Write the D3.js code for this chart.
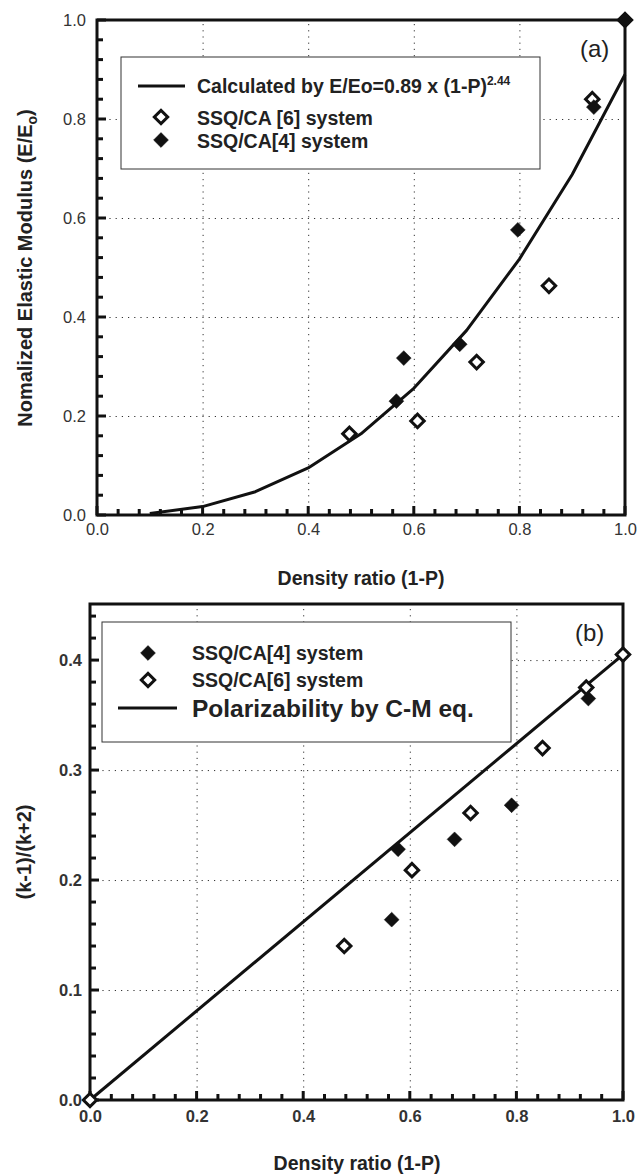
<!DOCTYPE html>
<html>
<head>
<meta charset="UTF-8" />
<title>Elastic modulus and polarizability vs density ratio</title>
<style>
  body { margin: 0; background: #fff; }
  svg { display: block; font-family: "Liberation Sans", Arial, sans-serif; }
  .grid line { stroke: #333; stroke-width: 1; stroke-dasharray: 1.2,5; }
</style>
</head>
<body>
<div id="chart"></div>
<script src="https://d3js.org/d3.v7.min.js"></script>
<script>
// panel (a): elastic modulus
const curveX = [0.1, 0.2, 0.3, 0.4, 0.5, 0.6, 0.7, 0.8, 0.9, 1.0];
const curveY = [0.003, 0.017, 0.047, 0.095, 0.164, 0.256, 0.373, 0.517, 0.688, 0.89];
const ssq6X_a = [0.478, 0.607, 0.719, 0.856, 0.938, 1.0];
const ssq6Y_a = [0.164, 0.19, 0.309, 0.463, 0.84, 1.0];
const ssq4X_a = [0.567, 0.581, 0.687, 0.797, 0.941, 1.0];
const ssq4Y_a = [0.23, 0.317, 0.345, 0.576, 0.824, 1.0];

// panel (b): polarizability
const cmX = [0.0, 1.0];
const cmY = [0.0, 0.405];
const ssq4X_b = [0.0, 0.566, 0.578, 0.684, 0.791, 0.935, 1.0];
const ssq4Y_b = [0.0, 0.164, 0.228, 0.237, 0.268, 0.365, 0.405];
const ssq6X_b = [0.0, 0.477, 0.604, 0.714, 0.849, 0.931, 1.0];
const ssq6Y_b = [0.0, 0.14, 0.209, 0.261, 0.32, 0.375, 0.405];

const xTicks = [0.0, 0.2, 0.4, 0.6, 0.8, 1.0];
const yTicksA = [0.0, 0.2, 0.4, 0.6, 0.8, 1.0];
const yTicksB = [0.0, 0.1, 0.2, 0.3, 0.4];

const svg = d3.select('#chart').append('svg')
    .attr('width', 639)
    .attr('height', 1174);

const zip = (xs, ys) => xs.map((x, i) => ({ x, y: ys[i] }));
const diamond = d3.symbol().type(d3.symbolSquare);

function panel(opt) {
    const x = d3.scaleLinear().domain([0, 1]).range([opt.left, opt.right]);
    const y = d3.scaleLinear().domain([0, opt.yMax]).range([opt.bottom, opt.top]);
    const w = opt.right - opt.left, h = opt.bottom - opt.top;
    const g = svg.append('g');

    // dotted grid
    g.append('g').attr('class', 'grid')
        .attr('transform', `translate(0,${opt.bottom})`)
        .call(d3.axisBottom(x).tickValues(opt.xGrid).tickSize(-h).tickFormat(''))
        .call(s => s.select('.domain').remove());
    g.append('g').attr('class', 'grid')
        .attr('transform', `translate(${opt.left},0)`)
        .call(d3.axisLeft(y).tickValues(opt.yGrid).tickSize(-w).tickFormat(''))
        .call(s => s.select('.domain').remove());

    // tick labels
    const xa = g.append('g')
        .attr('transform', `translate(0,${opt.bottom})`)
        .call(d3.axisBottom(x).tickValues(xTicks).tickSize(0).tickPadding(opt.xPad).tickFormat(d3.format('.1f')));
    const ya = g.append('g')
        .attr('transform', `translate(${opt.left},0)`)
        .call(d3.axisLeft(y).tickValues(opt.yTicks).tickSize(0).tickPadding(opt.yPad).tickFormat(d3.format('.1f')));
    [xa, ya].forEach(a => {
        a.select('.domain').remove();
        a.selectAll('line').remove();
        a.selectAll('text')
            .attr('font-size', 16.5)
            .attr('font-family', '"Liberation Sans", Arial, sans-serif')
            .attr('font-weight', opt.boldTicks ? 'bold' : 'normal')
            .attr('fill', '#333');
    });

    // frame
    g.append('rect')
        .attr('x', opt.left).attr('y', opt.top)
        .attr('width', w).attr('height', h)
        .attr('fill', 'none').attr('stroke', '#111').attr('stroke-width', 3);

    // inward ticks, drawn over the frame
    const xMinor = d3.range(0, 1.0001, 0.04);
    const yMinor = d3.range(0, opt.yMax + 1e-6, opt.yMinor);
    const isMajor = (v, list) => list.some(t => Math.abs(t - v) < 1e-6);
    const tk = g.append('g').attr('stroke', '#111').attr('stroke-width', 3);
    tk.selectAll('.xt').data(xMinor).enter().append('line')
        .attr('x1', d => x(d)).attr('x2', d => x(d))
        .attr('y1', opt.bottom)
        .attr('y2', d => opt.bottom - (isMajor(d, xTicks) ? 9 : 6));
    tk.selectAll('.yt').data(yMinor).enter().append('line')
        .attr('y1', d => y(d)).attr('y2', d => y(d))
        .attr('x1', opt.left)
        .attr('x2', d => opt.left + (isMajor(d, opt.yTicks) ? 9 : 6));

    return { x, y, g };
}

function marker(sel, filled) {
    return sel
        .attr('d', diamond.size(filled ? 110 : 90))
        .attr('fill', filled ? '#111' : '#fff')
        .attr('stroke', '#111')
        .attr('stroke-width', filled ? 0.5 : 3);
}

function drawSeries(p, pts, filled) {
    p.g.append('g').selectAll('path')
        .data(pts)
        .enter().append('path')
        .attr('transform', d => `translate(${p.x(d.x)},${p.y(d.y)}) rotate(45)`)
        .call(marker, filled);
}

function drawLine(p, pts) {
    p.g.append('path')
        .datum(pts)
        .attr('fill', 'none')
        .attr('stroke', '#111')
        .attr('stroke-width', 3)
        .attr('stroke-linejoin', 'round')
        .attr('d', d3.line().x(d => p.x(d.x)).y(d => p.y(d.y)));
}

function legendMarker(x, y, filled) {
    svg.append('path')
        .attr('transform', `translate(${x},${y}) rotate(45)`)
        .call(marker, filled);
}

function label(x, y, txt, size, extra) {
    const t = svg.append('text')
        .attr('x', x).attr('y', y)
        .attr('font-size', size)
        .attr('font-weight', 'bold')
        .attr('fill', '#222')
        .text(txt);
    if (extra) extra(t);
    return t;
}

// ---------- panel (a) ----------
const pa = panel({
    left: 97, right: 625, top: 20, bottom: 515, yMax: 1.0,
    yTicks: yTicksA, yMinor: 0.04, xPad: 8, yPad: 11, boldTicks: false,
    xGrid: [0.2, 0.4, 0.6, 0.8], yGrid: [0.2, 0.4, 0.6, 0.8]
});

// legend (a)
svg.append('rect').attr('x', 121).attr('y', 57).attr('width', 419).attr('height', 112)
    .attr('fill', '#fff').attr('stroke', '#333').attr('stroke-width', 1);
svg.append('line').attr('x1', 138).attr('x2', 185).attr('y1', 86).attr('y2', 86)
    .attr('stroke', '#111').attr('stroke-width', 3);
label(197, 93, 'Calculated by E/Eo=0.89 x (1-P)', 19.5, t => {
    t.append('tspan').attr('font-size', 12).attr('dy', -8).text('2.44');
});
legendMarker(161, 117, false);
label(197, 125, 'SSQ/CA [6] system', 19.5);
legendMarker(161, 140, true);
label(197, 148, 'SSQ/CA[4] system', 19.5);

drawLine(pa, zip(curveX, curveY));
drawSeries(pa, zip(ssq6X_a, ssq6Y_a), false);
drawSeries(pa, zip(ssq4X_a, ssq4Y_a), true);

svg.append('text').attr('x', 580).attr('y', 57).attr('font-size', 24)
    .attr('fill', '#222').text('(a)');

label(361, 585, 'Density ratio (1-P)', 19.5).attr('text-anchor', 'middle');
label(0, 0, 'Nomalized Elastic Modulus (E/E', 20, t => {
    t.attr('text-anchor', 'middle')
     .attr('transform', 'translate(32,268) rotate(-90)');
    t.append('tspan').attr('font-size', 14).attr('dy', 5).text('o');
    t.append('tspan').attr('dy', -5).text(')');
});

// ---------- panel (b) ----------
const pb = panel({
    left: 90, right: 623, top: 604, bottom: 1100, yMax: 0.451,
    yTicks: yTicksB, yMinor: 0.02, xPad: 10, yPad: 8, boldTicks: true,
    xGrid: [0.2, 0.4, 0.6, 0.8], yGrid: [0.1, 0.2, 0.3, 0.4]
});

// legend (b)
svg.append('rect').attr('x', 102).attr('y', 622).attr('width', 409).attr('height', 120)
    .attr('fill', '#fff').attr('stroke', '#333').attr('stroke-width', 1);
legendMarker(148, 653, true);
label(192, 660, 'SSQ/CA[4] system', 19.5);
legendMarker(148, 680, false);
label(192, 687, 'SSQ/CA[6] system', 19.5);
svg.append('line').attr('x1', 118).attr('x2', 177).attr('y1', 708).attr('y2', 708)
    .attr('stroke', '#111').attr('stroke-width', 3);
label(192, 717, 'Polarizability by C-M eq.', 24.5);

drawLine(pb, zip(cmX, cmY));
drawSeries(pb, zip(ssq4X_b, ssq4Y_b), true);
drawSeries(pb, zip(ssq6X_b, ssq6Y_b), false);

svg.append('text').attr('x', 575).attr('y', 641).attr('font-size', 24)
    .attr('fill', '#222').text('(b)');

label(357, 1170, 'Density ratio (1-P)', 19.5).attr('text-anchor', 'middle');
label(0, 0, '(k-1)/(k+2)', 20, t => {
    t.attr('text-anchor', 'middle')
     .attr('transform', 'translate(31,852) rotate(-90)');
});
</script>
</body>
</html>
